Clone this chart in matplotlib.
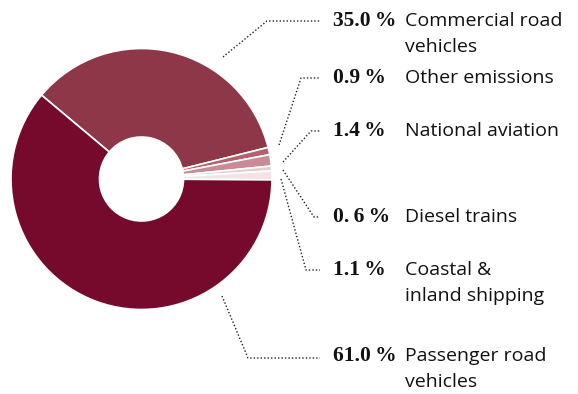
import matplotlib
matplotlib.use("Agg")
import matplotlib.pyplot as plt

# DATA (share of emissions, %)
labels = [["Commercial road", "vehicles"], ["Other emissions"], ["National aviation"],
          ["Diesel trains"], ["Coastal &", "inland shipping"], ["Passenger road", "vehicles"]]
shares = [35.0, 0.9, 1.4, 0.6, 1.1, 61.0]
pct_text = ["35.0\u2009%", "0.9\u2009%", "1.4\u2009%", "0.\u20096\u2009%", "1.1\u2009%", "61.0\u2009%"]
colors = ["#8e3748", "#b5606f", "#c98c97", "#e6cbd0", "#f2e4e6", "#760a2c"]

W, H = 578, 394
fig = plt.figure(figsize=(W / 100, H / 100), dpi=100)
ax = fig.add_axes([0, 0, 1, 1])

def py(y):
    # pixel row (from top) -> data y
    return H - y

cx, cy, R = 141.5, 179, 130.5
ax.pie(shares, colors=colors, startangle=140, counterclock=False,
       center=(cx, py(cy)), radius=R, frame=True,
       wedgeprops=dict(width=R - 42, edgecolor="white", linewidth=1.2))
ax.set_xlim(0, W)
ax.set_ylim(0, H)
ax.set_aspect("equal")
ax.axis("off")

# leader lines: start, bend, end (pixels)
leaders = [
    [(223, 57), (267, 21), (320, 21)],
    [(279, 145), (301, 78), (320, 78)],
    [(283, 162), (311, 131), (320, 131)],
    [(283, 170), (314, 217), (320, 217)],
    [(281, 179), (306, 270), (320, 270)],
    [(222, 296), (248, 358), (320, 358)],
]
label_y = [21, 78, 131, 217, 270, 356]

for pts, lab, pct, y in zip(leaders, labels, pct_text, label_y):
    xs = [p[0] for p in pts]
    ys = [py(p[1]) for p in pts]
    ax.plot(xs, ys, color="#222222", lw=1, ls=(0, (1, 1.5)))
    ax.text(333, py(y), pct, fontsize=15.5, fontweight="bold",
            family=["Liberation Serif", "DejaVu Serif"], va="center", ha="left",
            color="#111111")
    for i, line in enumerate(lab):
        ax.text(405, py(y + 26 * i), line, fontsize=14, family="Open Sans",
                va="center", ha="left", color="#111111")

fig.savefig("out.png", dpi=100)
